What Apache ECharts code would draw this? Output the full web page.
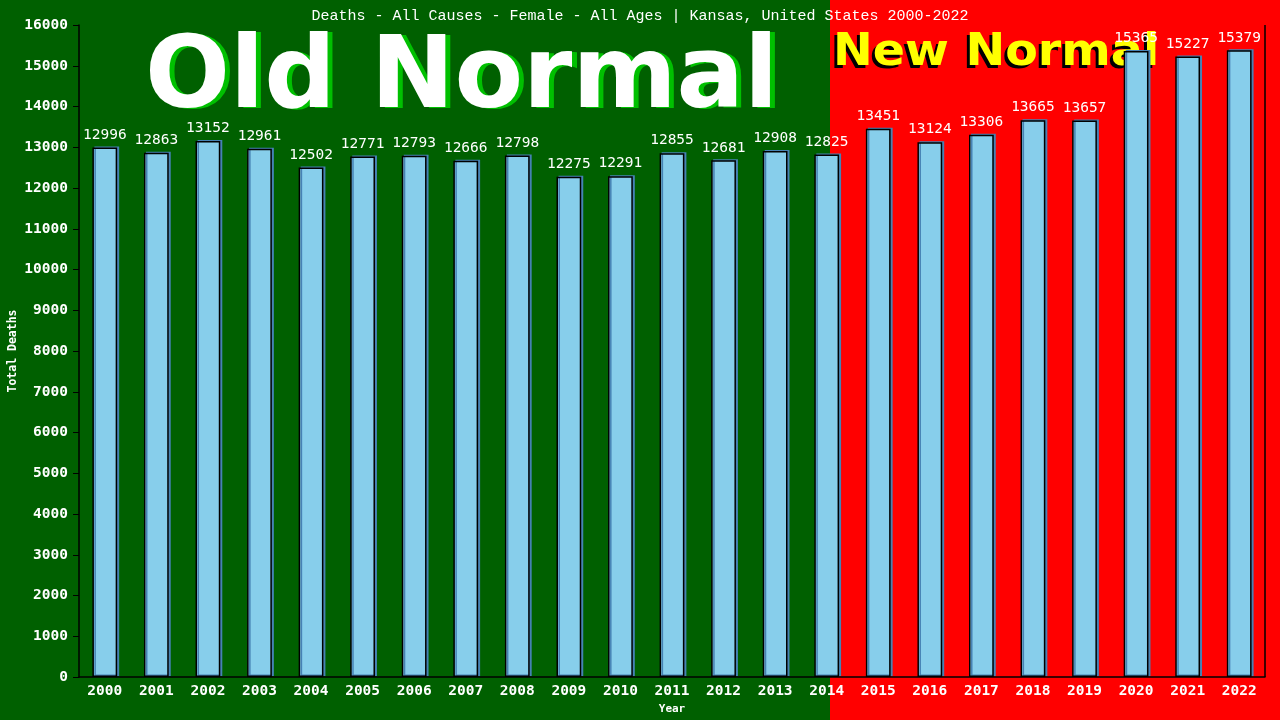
<!DOCTYPE html>
<html><head><meta charset="utf-8">
<script src="https://cdn.jsdelivr.net/npm/echarts@6/dist/echarts.min.js"></script>
<style>html,body{margin:0;padding:0;background:#006000}#c{width:1280px;height:720px}</style>
</head><body><div id="c"></div>
<script>
const years = ['2000','2001','2002','2003','2004','2005','2006','2007','2008','2009','2010','2011','2012','2013','2014','2015','2016','2017','2018','2019','2020','2021','2022'];
const deaths = [12996,12863,13152,12961,12502,12771,12793,12666,12798,12275,12291,12855,12681,12908,12825,13451,13124,13306,13665,13657,15365,15227,15379];
const titleText = 'Deaths - All Causes - Female - All Ages | Kansas, United States 2000-2022';
const yTicks = {min:0, max:16000, interval:1000};

const chart = echarts.init(document.getElementById('c'));
const mono = "'DejaVu Sans Mono', 'Liberation Mono', monospace";
chart.setOption({
  animation:false,
  backgroundColor:'#006000',
  title:{text:titleText, left:'center', top:4,
    textStyle:{color:'#fff', fontFamily:"'Liberation Mono', monospace", fontSize:15, fontWeight:'normal'}},
  graphic:[
    {type:'rect', z:-10, shape:{x:0,y:0,width:830,height:720}, style:{fill:'#006000'}, silent:true},
    {type:'rect', z:-10, shape:{x:830,y:0,width:450,height:720}, style:{fill:'#ff0000'}, silent:true},
    {type:'text', z:-6, x:150, y:82, style:{text:'Old Normal', fill:'#00c000', font:"bold 100px 'DejaVu Sans'",
      verticalAlign:'middle', textAlign:'left'}},
    {type:'text', z:-5, x:145, y:81, style:{text:'Old Normal', fill:'#fff', font:"bold 100px 'DejaVu Sans'",
      verticalAlign:'middle', textAlign:'left'}},
    {type:'text', z:-6, x:830, y:57, scaleX:1.08, style:{text:'New Normal', fill:'#000', font:"bold 44px 'DejaVu Sans'",
      verticalAlign:'middle', textAlign:'left'}},
    {type:'text', z:-5, x:833, y:53.5, scaleX:1.08, style:{text:'New Normal', fill:'#ffff00', font:"bold 44px 'DejaVu Sans'",
      verticalAlign:'middle', textAlign:'left'}},
    {type:'line', z:5, shape:{x1:1265,y1:25,x2:1265,y2:677}, style:{stroke:'#000', lineWidth:1.5}}
  ],
  grid:{left:79, right:15, top:25, bottom:43, containLabel:false, outerBoundsMode:'none'},
  xAxis:{type:'category', data:years, name:'Year', nameLocation:'middle', nameGap:26,
    nameTextStyle:{color:'#fff', fontFamily:mono, fontSize:11, fontWeight:'bold'},
    axisLine:{lineStyle:{color:'#000', width:1.5}}, axisTick:{show:false},
    axisLabel:{color:'#fff', fontFamily:mono, fontSize:14.5, fontWeight:'bold', margin:7, interval:0}},
  yAxis:{type:'value', min:yTicks.min, max:yTicks.max, interval:yTicks.interval,
    name:'Total Deaths', nameLocation:'middle', nameGap:60, nameRotate:90, nameMoveOverlap:false,
    nameTextStyle:{color:'#fff', fontFamily:mono, fontSize:11.5, fontWeight:'bold'},
    axisLine:{show:true, lineStyle:{color:'#000', width:1.5}},
    axisTick:{show:true, length:6, lineStyle:{color:'#000'}},
    splitLine:{show:false},
    axisLabel:{color:'#fff', fontFamily:mono, fontSize:14.5, fontWeight:'bold', margin:11,
      formatter:function(v){return String(v);}}},
  series:[{type:'bar', data:deaths, barWidth:'48%',
    itemStyle:{color:'#87ceeb', borderColor:'#000', borderWidth:1.5,
      shadowColor:'#4682b4', shadowOffsetX:2, shadowOffsetY:-1, shadowBlur:0},
    label:{show:true, position:'top', distance:5, color:'#fff', fontFamily:mono, fontSize:14.5}}]
});
</script></body></html>
